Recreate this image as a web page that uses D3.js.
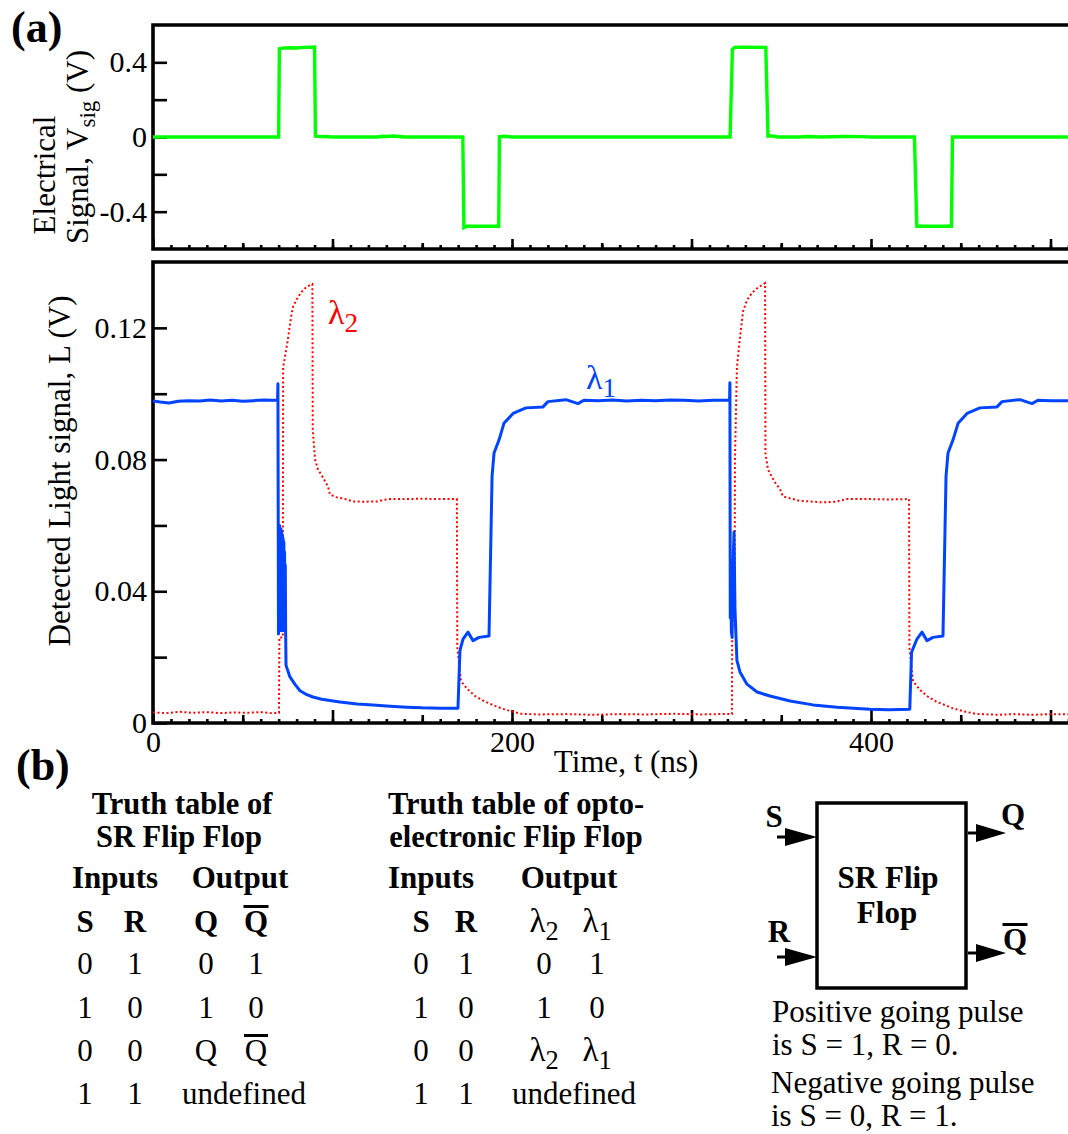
<!DOCTYPE html>
<html>
<head>
<meta charset="utf-8">
<script src="https://cdn.jsdelivr.net/npm/d3@7"></script>
<style>
body{margin:0;background:#fff;}
svg{display:block;font-family:"Liberation Serif","Times New Roman",serif;}
</style>
</head>
<body>
<div id="chart-area"></div>
<script>
// ---------- DATA ----------
// time in ns, value in V
let green=[
	[0,0],[40,0],[70.0,0],[70.4,0.472],[72,0.476],[76,0.478],[80,0.477],[84,0.48],[90.0,0.482],
	[90.5,0.004],[93,0.002],[96,0.003],[100,0],[125,0],[128,0.004],[130,0.003],[134,0.005],[137,0.003],[140,0],
	[172.6,0],[173.2,-0.486],[175,-0.478],[185,-0.478],[192.6,-0.478],[193.0,0.002],[196,0.004],[200,0],
	[321.5,0],[322.8,0.47],[324,0.48],[330,0.481],[341.4,0.48],[342.6,0.004],[345,0.006],[348,0],
	[360,0],[365,0.003],[372,0],[385,0.003],[395,0.002],[400,0],
	[424.2,0],[425.5,-0.478],[435,-0.478],[444.8,-0.478],[445.4,0],[515,0]
];

let red=[
	[0,0.0032],[8,0.0030],[15,0.0034],[22,0.0031],[30,0.0033],[38,0.0030],[45,0.0032],[52,0.0031],[60,0.0033],[66,0.0030],[70.2,0.0031],
	[70.4,0.026],[72.3,0.026],[72.5,0.108],[74.7,0.115],[75.8,0.119],[76.9,0.1233],[78,0.1264],[80.8,0.1294],[83.6,0.1315],[86,0.1326],[88.8,0.1333],
	[89.0,0.089],[90.3,0.08],[91.9,0.077],[94.2,0.075],[97.5,0.0718],[98.6,0.0694],[102,0.0686],[105.8,0.0682],[111.4,0.0673],[118,0.0672],
	[124.8,0.0673],[128,0.0677],[132,0.068],[140,0.068],[150,0.0681],[160,0.068],[169.3,0.068],
	[169.5,0.023],[171.6,0.0127],[175,0.0104],[179.4,0.0082],[185,0.0065],[190.5,0.0052],[195,0.0043],[199.4,0.0036],[205,0.0028],
	[215,0.0026],[230,0.0027],[245,0.0025],[260,0.0027],[275,0.0026],[290,0.0028],[305,0.0026],[315,0.0027],[322.5,0.0027],
	[322.7,0.029],[324.0,0.029],[324.2,0.08],[325.3,0.108],[327,0.117],[328.7,0.125],[331,0.1285],[333.7,0.1306],[337,0.1322],[341,0.1336],
	[341.2,0.082],[342.6,0.077],[346,0.0735],[349.3,0.071],[351,0.0688],[360,0.0675],[373.3,0.067],[380,0.0672],[386.6,0.068],[400,0.068],[410,0.0679],[421.2,0.068],
	[421.4,0.023],[423.4,0.0127],[427,0.0102],[431.2,0.0082],[436,0.0066],[442.3,0.0052],[446,0.0044],[451.3,0.0036],[458,0.0028],
	[470,0.0025],[480,0.0027],[490,0.0025],[500,0.0027],[515,0.0026]
];

let blue=[
	[0,0.0978],[4,0.0975],[9,0.0972],[14,0.0977],[20,0.0979],[26,0.0978],[32,0.0981],[38,0.0978],[44,0.0980],[50,0.0977],[56,0.0979],[62,0.0981],[66,0.0980],[69.4,0.0980],
	[69.6,0.103],[69.9,0.027],[70.1,0.058],[70.3,0.030],[70.5,0.060],[70.7,0.028],[70.9,0.057],[71.1,0.029],[71.3,0.059],[71.5,0.031],[71.7,0.058],
	[71.9,0.028],[72.1,0.057],[72.3,0.030],[72.5,0.056],[72.7,0.029],[72.9,0.055],[73.1,0.028],[73.3,0.052],[73.5,0.029],[73.7,0.048],[73.9,0.027],
	[74.1,0.0175],[76.3,0.014],[79,0.0118],[81.9,0.0098],[85,0.0088],[89.1,0.0079],[94,0.0072],[100.3,0.0067],[104.2,0.0064],[113.6,0.0058],
	[122.6,0.0055],[132,0.0051],[141.5,0.0048],[150,0.0046],[159.9,0.0045],[169.9,0.0045],
	[171,0.022],[172.7,0.0255],[175.5,0.0276],[178.3,0.025],[181.6,0.026],[187.2,0.0264],[188.9,0.075],[190,0.082],[192.8,0.086],[195.5,0.091],
	[200.6,0.094],[207.8,0.0957],[217.3,0.096],[220,0.0976],[230,0.0982],[236.8,0.097],[240,0.098],[248,0.0979],[256,0.0981],[264,0.0978],
	[272,0.0980],[280,0.0979],[288,0.0981],[296,0.0980],[304,0.0978],[312,0.0980],[321.2,0.0980],
	[321.4,0.1033],[321.6,0.032],[321.9,0.040],[322.2,0.028],[322.6,0.026],[323.0,0.045],[323.7,0.058],[324.2,0.035],[325.3,0.019],[327,0.0155],
	[330.9,0.0118],[336.5,0.0094],[343.7,0.0082],
	[354.9,0.0067],[367.7,0.0055],[381.1,0.0048],[399.4,0.0042],[410,0.0040],[421.6,0.0042],
	[422.6,0.0215],[425.6,0.0255],[428.4,0.0276],[431.2,0.025],[434.5,0.026],[440.1,0.0264],[441.8,0.0749],[442.9,0.082],[445.7,0.086],
	[448.5,0.091],[453.5,0.094],[460.7,0.0957],[470.2,0.096],[473,0.0976],[483,0.0982],[489.7,0.097],[493,0.098],[500,0.0979],[515,0.0978]
];

// ticks
let xMinorTicks=d3.range(0,520,10);
let xMidTicks=[50,150,250,350,450];
let xMajorTicks=[0,100,200,300,400,500];
let xTickLabels=[0,200,400];
let yTopTicks=[-0.4,-0.2,0,0.2,0.4];
let yTopLabels=[-0.4,0,0.4];
let yBotTicks=[0,0.02,0.04,0.06,0.08,0.10,0.12];
let yBotLabels=[0,0.04,0.08,0.12];

// truth tables
let srHead=["S","R","Q","Qbar"];
let srRows=[["0","1","0","1"],["1","0","1","0"],["0","0","Q","Qbar"],["1","1","undefined"]];
let optoHead=["S","R","λ2","λ1"];
let optoRows=[["0","1","0","1"],["1","0","1","0"],["0","0","λ2","λ1"],["1","1","undefined"]];

// ---------- LAYOUT ----------
let W=1068,H=1134;
let left=153, right=1068;
let top1=25, bot1=249, top2=262, bot2=723;
let serif='"Liberation Serif","Times New Roman",serif';

let svg=d3.select("#chart-area").append("svg")
	.attr("width",W)
	.attr("height",H);
svg.append("rect").attr("width",W).attr("height",H).attr("fill","#fff");

//---------SCALES--------------
let x=d3.scaleLinear().domain([0,400]).range([left,871]);
let yTop=d3.scaleLinear().domain([-0.6,0.6]).range([bot1,top1]);
let yBot=d3.scaleLinear().domain([0,0.14]).range([bot2,top2]);

let defs=svg.append("defs");
defs.append("clipPath").attr("id","clipTop").append("rect")
	.attr("x",left).attr("y",top1).attr("width",right-left).attr("height",bot1-top1);
defs.append("clipPath").attr("id","clipBot").append("rect")
	.attr("x",left).attr("y",top2).attr("width",right-left).attr("height",bot2-top2);

//-------AXES------------------
function xTicks(yPos,sizes,withLabels){
	let sets=[[xMinorTicks,sizes[0]],[xMidTicks,sizes[1]],[xMajorTicks,sizes[2]]];
	sets.forEach(function(s){
		let ax=svg.append("g")
			.attr("transform","translate(0,"+yPos+")")
			.call(d3.axisBottom(x).tickValues(s[0]).tickSize(-s[1]).tickFormat(""));
		ax.select(".domain").remove();
		ax.selectAll("line").attr("stroke","#000").attr("stroke-width",2.6);
	});
	if(withLabels){
		let ax=svg.append("g")
			.attr("transform","translate(0,"+yPos+")")
			.call(d3.axisBottom(x).tickValues(xTickLabels).tickSize(0).tickPadding(8).tickFormat(d3.format("d")));
		ax.select(".domain").remove();
		ax.selectAll("text").attr("font-family",serif).attr("font-size",30).attr("fill","#000");
	}
}

function yTicks(scale,ticks,labels,fmt){
	let ax=svg.append("g")
		.attr("transform","translate("+left+",0)")
		.call(d3.axisLeft(scale).tickValues(ticks).tickSize(-14).tickPadding(6)
			.tickFormat(d=>labels.some(l=>Math.abs(l-d)<1e-9)?fmt(d):""));
	ax.select(".domain").remove();
	ax.selectAll("line").attr("stroke","#000").attr("stroke-width",2.6);
	ax.selectAll("text").attr("font-family",serif).attr("font-size",30).attr("fill","#000");
}

xTicks(bot1,[4,6,10],false);
xTicks(bot2,[4,8,13],true);
yTicks(yTop,yTopTicks,yTopLabels,d=>d===0?"0":d3.format(".1f")(d).replace("−","-"));
yTicks(yBot,yBotTicks,yBotLabels,d=>d===0?"0":d3.format(".2f")(d));

// frames (open on the right, the figure is cropped there)
[[top1,bot1],[top2,bot2]].forEach(function(p){
	svg.append("path")
		.attr("d","M"+(right+5)+","+p[0]+"H"+left+"V"+p[1]+"H"+(right+5))
		.attr("fill","none").attr("stroke","#000").attr("stroke-width",3.6);
});

//-------TRACES----------------
let lineTop=d3.line().x(d=>x(d[0])).y(d=>yTop(d[1]));
let lineBot=d3.line().x(d=>x(d[0])).y(d=>yBot(d[1]));

svg.append("path").datum(green)
	.attr("clip-path","url(#clipTop)")
	.attr("d",lineTop)
	.attr("fill","none").attr("stroke","#00ff00").attr("stroke-width",3.4);

svg.append("path").datum(red)
	.attr("clip-path","url(#clipBot)")
	.attr("d",lineBot)
	.attr("fill","none").attr("stroke","#ff0000").attr("stroke-width",2)
	.attr("stroke-dasharray","2,2.5");

svg.append("path").datum(blue)
	.attr("clip-path","url(#clipBot)")
	.attr("d",lineBot)
	.attr("fill","none").attr("stroke","#0044ff").attr("stroke-width",3)
	.attr("stroke-linejoin","round");

//------LABELS----------------
function lambda(g,xp,yp,sub,color,size,anchor){
	let t=g.append("text")
		.attr("x",xp).attr("y",yp)
		.attr("text-anchor",anchor||"start")
		.attr("font-family",serif).attr("font-size",size)
		.attr("fill",color);
	t.append("tspan").text("λ");
	t.append("tspan").attr("font-size",size*0.8).attr("dy",size*0.24).text(sub);
	return t;
}
lambda(svg,328,324,"2","#ff0000",34);
lambda(svg,586,389,"1","#0044ff",34);

svg.append("text")
	.attr("transform","translate(55,175) rotate(-90)")
	.attr("text-anchor","middle")
	.attr("font-family",serif).attr("font-size",31)
	.text("Electrical");
let sig=svg.append("text")
	.attr("transform","translate(88,147) rotate(-90)")
	.attr("text-anchor","middle")
	.attr("font-family",serif).attr("font-size",31);
sig.append("tspan").text("Signal, V");
sig.append("tspan").attr("font-size",23).attr("dy",7).text("sig");
sig.append("tspan").attr("dy",-7).text(" (V)");

svg.append("text")
	.attr("transform","translate(70,471) rotate(-90)")
	.attr("text-anchor","middle")
	.attr("font-family",serif).attr("font-size",31)
	.text("Detected Light signal, L (V)");

svg.append("text")
	.attr("x",626).attr("y",772)
	.attr("text-anchor","middle")
	.attr("font-family",serif).attr("font-size",31)
	.text("Time, t (ns)");

svg.append("text").attr("x",11).attr("y",42)
	.attr("font-family",serif).attr("font-weight","bold").attr("font-size",44).text("(a)");
svg.append("text").attr("x",16).attr("y",780)
	.attr("font-family",serif).attr("font-weight","bold").attr("font-size",44).text("(b)");

//--------TABLES--------------
function txt(xp,yp,s,bold,anchor,size){
	return svg.append("text")
		.attr("x",xp).attr("y",yp)
		.attr("text-anchor",anchor||"middle")
		.attr("font-family",serif)
		.attr("font-weight",bold?"bold":"normal")
		.attr("font-size",size||31)
		.text(s);
}
function qbar(xp,yp,bold){
	txt(xp,yp,"Q",bold);
	let w=bold?25:24;
	svg.append("rect").attr("x",xp-w/2).attr("y",yp-27).attr("width",w).attr("height",3).attr("fill","#000");
}
function cell(xp,yp,s,bold){
	if(s==="Qbar") qbar(xp,yp,bold);
	else if(s==="λ1"||s==="λ2") lambda(svg,xp,yp,s.slice(1),"#000",33,"middle");
	else txt(xp,yp,s,bold);
}

let rowY=[974,1018,1061,1104];

// table 1
txt(182,814,"Truth table of",true,"middle",30.5);
txt(179,847,"SR Flip Flop",true,"middle",30.5);
txt(115,888,"Inputs",true);
txt(240,888,"Output",true);
let srCols=[85,135,206,256];
srHead.forEach((s,i)=>cell(srCols[i],932,s,true));
srRows.forEach(function(r,j){
	if(r.length===3){
		cell(srCols[0],rowY[j],r[0]);cell(srCols[1],rowY[j],r[1]);
		txt(244,rowY[j],r[2]);
	}else r.forEach((s,i)=>cell(srCols[i],rowY[j],s,false));
});

// table 2
txt(516,814,"Truth table of opto-",true,"middle",30.5);
txt(516,847,"electronic Flip Flop",true,"middle",30.5);
txt(431,888,"Inputs",true);
txt(569,888,"Output",true);
let optoCols=[421,466,544,597];
optoHead.forEach((s,i)=>cell(optoCols[i],932,s,s.length===1));
optoRows.forEach(function(r,j){
	if(r.length===3){
		cell(optoCols[0],rowY[j],r[0]);cell(optoCols[1],rowY[j],r[1]);
		txt(574,rowY[j],r[2]);
	}else r.forEach((s,i)=>cell(optoCols[i],rowY[j],s,false));
});

//--------DIAGRAM--------------
svg.append("rect").attr("x",817).attr("y",803).attr("width",149).attr("height",185)
	.attr("fill","none").attr("stroke","#000").attr("stroke-width",3.5);
function arrow(x0,x1,tipX,yp){
	svg.append("line").attr("x1",x0).attr("x2",tipX-6).attr("y1",yp).attr("y2",yp)
		.attr("stroke","#000").attr("stroke-width",3);
	svg.append("path").attr("d","M"+x1+","+(yp-9)+"L"+tipX+","+yp+"L"+x1+","+(yp+9)+"Z").attr("fill","#000");
}
arrow(777,785,817,837);
arrow(777,785,817,957);
arrow(968,976,1006,833);
arrow(968,976,1006,953);
txt(774,827,"S",true);
txt(779,942,"R",true);
txt(1013,825,"Q",true);
qbar(1015,950,true);
txt(888,888,"SR Flip",true);
txt(887,923,"Flop",true);

txt(772,1022,"Positive going pulse",false,"start");
txt(772,1055,"is S = 1, R = 0.",false,"start");
txt(771,1093,"Negative going pulse",false,"start");
txt(771,1126,"is S = 0, R = 1.",false,"start");
</script>
</body>
</html>
